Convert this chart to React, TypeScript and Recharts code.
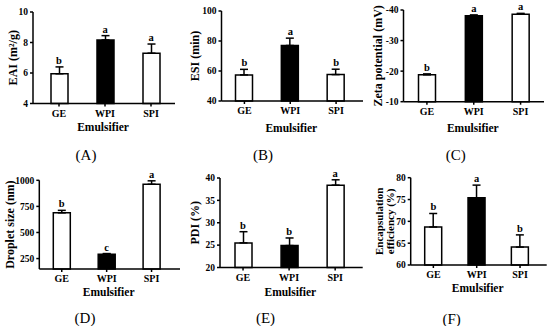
import { ComposedChart, Bar, Cell, ErrorBar, Scatter, XAxis, YAxis } from 'recharts'

const emulsifiers = ['GE', 'WPI', 'SPI']
const barFills = ['#ffffff', '#000000', '#ffffff']

const eaiMeans = [5.95, 8.17, 7.3]
const eaiErrors = [0.45, 0.28, 0.6]
const eaiLetters = ['b', 'a', 'a']
const eaiTicks = [4, 6, 8, 10]

const esiMeans = [57.4, 77, 57.6]
const esiErrors = [3.7, 4.9, 3.6]
const esiLetters = ['b', 'a', 'b']
const esiTicks = [40, 60, 80, 100]

const zetaMeans = [-18.8, -38.1, -38.6]
const zetaErrors = [0.3, 0.3, 0.3]
const zetaLetters = ['b', 'a', 'a']
const zetaTicks = [-40, -30, -20, -10]

const dropletMeans = [688, 292, 962]
const dropletErrors = [24, 6, 33]
const dropletLetters = ['b', 'c', 'a']
const dropletTicks = [250, 500, 750, 1000]

const pdiMeans = [25.5, 24.9, 38.4]
const pdiErrors = [2.5, 1.7, 1.2]
const pdiLetters = ['b', 'b', 'a']
const pdiTicks = [20, 25, 30, 35, 40]

const eeMeans = [68.7, 75.4, 64.1]
const eeErrors = [3.1, 2.9, 2.8]
const eeLetters = ['b', 'a', 'b']
const eeTicks = [60, 65, 70, 75, 80]

const FONT = '"Liberation Serif", "Times New Roman", serif'
const BOX_H = 163
const AXIS_H = 30

// reversed = error bar goes towards more negative values (zeta panel)
const makeRows = (means: number[], errors: number[], letters: string[], reversed = false) =>
  emulsifiers.map((name, i) => ({
    name,
    mean: means[i],
    err: reversed ? [errors[i], 0] : [0, errors[i]],
    top: reversed ? means[i] - errors[i] : means[i] + errors[i],
    letter: letters[i],
  }))

interface PanelProps {
  rows: ReturnType<typeof makeRows>
  ticks: number[]
  domain: [number, number]
  reversed?: boolean
  yTitle: string[]
  yTitleX: number[]
  yTitleSize?: number
  box: { left: number; top: number; width: number }
  plot: { left: number; top: number; right: number; bottom: number }
  pad: [number, number]
  xTitleY: number
  tag: string
  tagPos: [number, number]
}

function Panel({ rows, ticks, domain, reversed, yTitle, yTitleX, yTitleSize = 12, box, plot, pad, xTitleY, tag, tagPos }: PanelProps) {
  const yWidth = plot.left - box.left
  const mTop = plot.top - box.top
  const mRight = box.left + box.width - plot.right
  const mBottom = box.top + BOX_H - plot.bottom - AXIS_H
  const midY = mTop + (plot.bottom - plot.top) / 2
  const midX = yWidth + (plot.right - plot.left) / 2

  return (
    <>
      <div style={{ position: 'absolute', left: box.left, top: box.top, width: box.width, height: BOX_H }}>
        <ComposedChart
          width={box.width}
          height={BOX_H}
          data={rows}
          margin={{ top: mTop, right: mRight, bottom: mBottom, left: 0 }}
        >
          <XAxis
            dataKey="name"
            type="category"
            interval={0}
            padding={{ left: pad[0], right: pad[1] }}
            height={AXIS_H}
            tickSize={3}
            tickMargin={3}
            axisLine={{ stroke: '#000', strokeWidth: 1.5 }}
            tickLine={{ stroke: '#000', strokeWidth: 1.5 }}
            tick={{ fill: '#000', fontSize: 10, fontWeight: 'bold', fontFamily: FONT }}
            label={() => (
              <text
                x={midX - 1}
                y={xTitleY - box.top}
                textAnchor="middle"
                fill="#000"
                fontSize={11.5}
                fontWeight="bold"
                fontFamily={FONT}
              >
                Emulsifier
              </text>
            )}
          />
          <YAxis
            type="number"
            domain={domain}
            ticks={ticks}
            reversed={reversed}
            width={yWidth}
            tickSize={3}
            tickMargin={2}
            axisLine={{ stroke: '#000', strokeWidth: 1.5 }}
            tickLine={{ stroke: '#000', strokeWidth: 1.5 }}
            tick={{ fill: '#000', fontSize: 9.5, fontWeight: 'bold', fontFamily: FONT }}
            label={() => (
              <g>
                {yTitle.map((line, i) => (
                  <text
                    key={line}
                    x={yTitleX[i]}
                    y={midY}
                    transform={`rotate(-90, ${yTitleX[i]}, ${midY})`}
                    textAnchor="middle"
                    dominantBaseline="central"
                    fill="#000"
                    fontSize={yTitleSize}
                    fontWeight="bold"
                    fontFamily={FONT}
                  >
                    {line}
                  </text>
                ))}
              </g>
            )}
          />
          <Bar dataKey="mean" barSize={17} stroke="#000" strokeWidth={1.5} isAnimationActive={false}>
            {rows.map((r, i) => (
              <Cell key={r.name} fill={barFills[i]} />
            ))}
            <ErrorBar dataKey="err" width={4} stroke="#000" strokeWidth={1.5} direction="y" />
          </Bar>
          <Scatter
            dataKey="top"
            legendType="none"
            isAnimationActive={false}
            shape={(p: any) => (
              <text
                x={p.cx}
                y={p.cy - 3}
                textAnchor="middle"
                fill="#000"
                fontSize={10.5}
                fontWeight="bold"
                fontFamily={FONT}
              >
                {p.payload.letter}
              </text>
            )}
          />
        </ComposedChart>
      </div>
      <div
        style={{
          position: 'absolute',
          left: tagPos[0] - 25,
          top: tagPos[1] - 9,
          width: 50,
          textAlign: 'center',
          fontFamily: FONT,
          fontSize: 15,
          lineHeight: '18px',
          color: '#000',
        }}
      >
        {tag}
      </div>
    </>
  )
}

export default function App() {
  return (
    <div style={{ position: 'absolute', left: 0, top: 0, width: 550, height: 326, background: '#fff', overflow: 'hidden' }}>
      <Panel
        rows={makeRows(eaiMeans, eaiErrors, eaiLetters)}
        ticks={eaiTicks}
        domain={[4, 10]}
        yTitle={['EAI (m²/g)']}
        yTitleX={[13]}
        box={{ left: 0, top: 0, width: 183 }}
        plot={{ left: 33, top: 12, right: 175, bottom: 103.5 }}
        pad={[3, 1]}
        xTitleY={131}
        tag="(A)"
        tagPos={[86, 155]}
      />
      <Panel
        rows={makeRows(esiMeans, esiErrors, esiLetters)}
        ticks={esiTicks}
        domain={[40, 100]}
        yTitle={['ESI (min)']}
        yTitleX={[12]}
        box={{ left: 183, top: 0, width: 183 }}
        plot={{ left: 221.5, top: 11, right: 363, bottom: 101 }}
        pad={[0, 4]}
        xTitleY={131.5}
        tag="(B)"
        tagPos={[263, 155]}
      />
      <Panel
        rows={makeRows(zetaMeans, zetaErrors, zetaLetters, true)}
        ticks={zetaTicks}
        domain={[-40, -10]}
        reversed
        yTitle={['Zeta potential (mV)']}
        yTitleX={[12]}
        box={{ left: 366, top: 0, width: 184 }}
        plot={{ left: 403.5, top: 10, right: 544, bottom: 101.7 }}
        pad={[0, 0]}
        xTitleY={131.5}
        tag="(C)"
        tagPos={[455.7, 155]}
      />
      <Panel
        rows={makeRows(dropletMeans, dropletErrors, dropletLetters)}
        ticks={dropletTicks}
        domain={[150, 1000]}
        yTitle={['Droplet size (nm)']}
        yTitleX={[10]}
        box={{ left: 0, top: 163, width: 183 }}
        plot={{ left: 39.3, top: 180.3, right: 180, bottom: 269 }}
        pad={[0, 6]}
        xTitleY={295.5}
        tag="(D)"
        tagPos={[85, 318]}
      />
      <Panel
        rows={makeRows(pdiMeans, pdiErrors, pdiLetters)}
        ticks={pdiTicks}
        domain={[20, 40]}
        yTitle={['PDI (%)']}
        yTitleX={[12]}
        box={{ left: 183, top: 163, width: 183 }}
        plot={{ left: 220, top: 178, right: 362.7, bottom: 267.5 }}
        pad={[0, 4.5]}
        xTitleY={295.5}
        tag="(E)"
        tagPos={[265.5, 318]}
      />
      <Panel
        rows={makeRows(eeMeans, eeErrors, eeLetters)}
        ticks={eeTicks}
        domain={[60, 80]}
        yTitle={['Encapsulation', 'efficiency (%)']}
        yTitleX={[13, 24]}
        yTitleSize={11}
        box={{ left: 366, top: 163, width: 184 }}
        plot={{ left: 410.7, top: 177.7, right: 546.7, bottom: 265 }}
        pad={[1, 5]}
        xTitleY={292}
        tag="(F)"
        tagPos={[451.7, 319]}
      />
    </div>
  )
}
